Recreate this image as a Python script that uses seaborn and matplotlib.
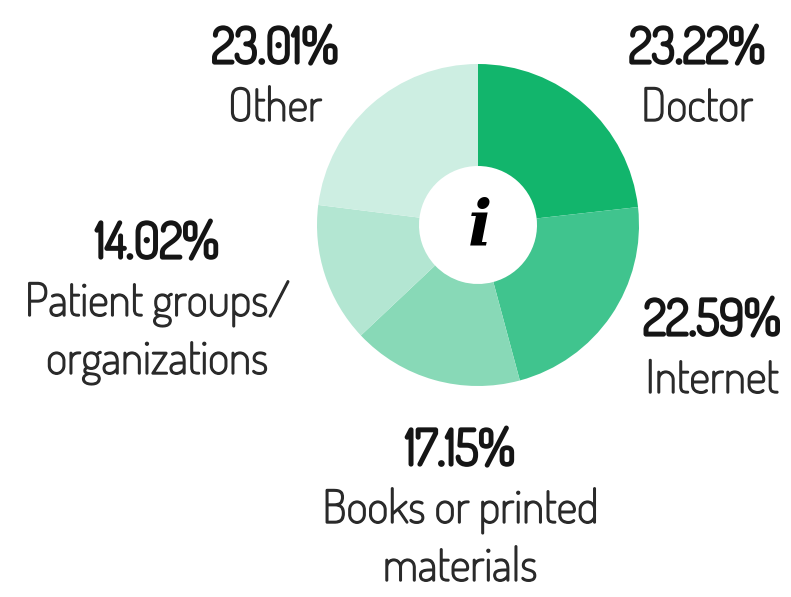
import matplotlib
matplotlib.use("Agg")
import matplotlib.pyplot as plt
import matplotlib.patheffects as pe
import seaborn as sns

categories = ["Doctor", "Internet", "Books or printed\nmaterials", "Patient groups/\norganizations", "Other"]
values = [23.22, 22.59, 17.15, 14.02, 23.01]
pct_labels = ["23.22%", "22.59%", "17.15%", "14.02%", "23.01%"]
colors = ["#12b56c", "#40c48e", "#88d9b7", "#b3e6d2", "#cdeee2"]

sns.set_theme(style="white")
plt.rcParams['font.family'] = ['Dosis', 'DejaVu Sans']

W, H = 791, 597
fig = plt.figure(figsize=(W / 100, H / 100), dpi=100)
ax = fig.add_axes([0, 0, 1, 1])

cx, cy, R, r_in = 478, H - 225, 161, 59
ax.pie(values, colors=colors, startangle=90, counterclock=False,
       center=(cx, cy), radius=R, frame=True,
       wedgeprops=dict(width=R - r_in, linewidth=0))
ax.set_xlim(0, W)
ax.set_ylim(0, H)
ax.set_aspect('equal')
ax.axis('off')

ax.text(cx + 2, cy - 2, "i", fontsize=46, fontweight='bold', fontstyle='italic',
        family='DejaVu Serif', ha='center', va='center', color='black')

bold_fx = [pe.withStroke(linewidth=2.3, foreground='#151515')]
reg_fx = [pe.withStroke(linewidth=1.0, foreground='#2a2a2a')]

# label positions (pixel coordinates: x, baseline of pct line)
pos = {0: (697, 63), 1: (712, 335), 2: (460, 465), 3: (157, 258), 4: (275, 63)}
for i, (lab, pct) in enumerate(zip(categories, pct_labels)):
    x, yb = pos[i]
    ax.text(x, H - yb, pct, fontsize=35.5, ha='center',
            va='baseline', color='#151515', path_effects=bold_fx)
    for j, line in enumerate(lab.split("\n")):
        ax.text(x, H - (yb + 58 + 58 * j), line, fontsize=33, ha='center',
                va='baseline', color='#2a2a2a', path_effects=reg_fx)

fig.savefig("out.png", dpi=100)
